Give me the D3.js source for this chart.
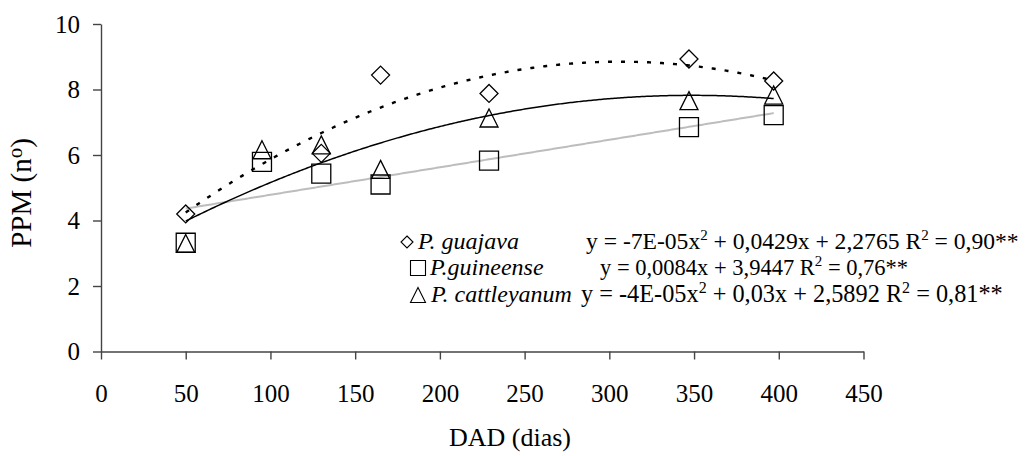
<!DOCTYPE html>
<html>
<head>
<meta charset="utf-8">
<script src="https://cdn.jsdelivr.net/npm/d3@7/dist/d3.min.js"></script>
<style>
  html, body { margin: 0; padding: 0; background: #fff; }
  svg { display: block; }
  text { font-family: "Liberation Serif", "Times New Roman", serif; white-space: pre; }
</style>
</head>
<body>
<svg id="chart" width="1027" height="456"></svg>
<script>
// Days after planting (DAD) at each evaluation
const days = [50, 95, 130, 165, 229, 347, 397];

// PPM (nº) per species; null = no observation
const guajava     = [4.2, null, 6.05, 8.44, 7.88, 8.93, 8.26];
const guineense   = [3.32, 5.79, 5.43, 5.1, 5.83, 6.85, 7.22];
const cattleyanum = [3.3, 6.16, 6.31, 5.56, 7.13, 7.66, 7.83];

// Trend-line coefficients [a, b, c] for y = a·x² + b·x + c
const guajavaFit     = [-7e-5, 0.0429, 2.2765];
const guineenseFit   = [0, 0.0084, 3.9447];
const cattleyanumFit = [-4.3e-5, 0.03, 2.5892];

// Axis ticks
const xTicks = [0, 50, 100, 150, 200, 250, 300, 350, 400, 450];
const yTicks = [0, 2, 4, 6, 8, 10];

// Legend labels and equation text (alternating normal / superscript pieces)
const speciesNames = ["P. guajava", "P.guineense", "P. cattleyanum"];
const equations = [
  ["y = -7E-05x", "2", " + 0,0429x + 2,2765 R", "2", " = 0,90**"],
  ["y = 0,0084x + 3,9447 R", "2", " = 0,76**"],
  ["y = -4E-05x", "2", " + 0,03x + 2,5892 R", "2", " = 0,81**"]
];

const svg = d3.select("#chart");

const x = d3.scaleLinear().domain([0, 450]).range([101, 863.5]);
const y = d3.scaleLinear().domain([0, 10]).range([351.5, 24]);

// Marker shapes
const diamond = { draw(ctx, size) { const r = Math.sqrt(size) / 2;
  ctx.moveTo(0, -r); ctx.lineTo(r, 0); ctx.lineTo(0, r); ctx.lineTo(-r, 0); ctx.closePath(); } };
const triangle = { draw(ctx, size) { const r = Math.sqrt(size) / 2;
  ctx.moveTo(0, -r); ctx.lineTo(r, r); ctx.lineTo(-r, r); ctx.closePath(); } };
const square = { draw(ctx, size) { const r = Math.sqrt(size) / 2;
  ctx.rect(-r, -r, 2 * r, 2 * r); } };

// Axes
const axisColor = "#444";
const xAxis = svg.append("g")
  .attr("transform", `translate(0,${y(0)})`)
  .call(d3.axisBottom(x).tickValues(xTicks).tickSize(8).tickSizeOuter(0).tickPadding(25));
const yAxis = svg.append("g")
  .attr("transform", `translate(${x(0)},0)`)
  .call(d3.axisLeft(y).tickValues(yTicks).tickSize(8).tickSizeOuter(0).tickPadding(13));
[xAxis, yAxis].forEach(g => {
  g.select(".domain").attr("stroke", axisColor).attr("stroke-width", 1.4);
  g.selectAll(".tick line").attr("stroke", axisColor).attr("stroke-width", 1.4);
  g.selectAll(".tick text")
    .attr("fill", "#000")
    .style("font-family", '"Liberation Serif", "Times New Roman", serif')
    .style("font-size", "25px");
});

// Axis titles
svg.append("text")
  .attr("x", 510).attr("y", 446)
  .attr("text-anchor", "middle")
  .style("font-size", "26px")
  .text("DAD (dias)");
const yTitle = svg.append("text")
  .attr("transform", "translate(31,193) rotate(-90)")
  .attr("text-anchor", "middle")
  .style("font-size", "29px");
yTitle.append("tspan").text("PPM (n");
yTitle.append("tspan").attr("dy", -9).style("font-size", "21px").text("o");
yTitle.append("tspan").attr("dy", 9).text(")");

// Trend lines
const xMin = d3.min(days), xMax = d3.max(days);
const trendX = d3.range(xMin, xMax + 0.5, 1);
const poly = c => v => c[0] * v * v + c[1] * v + c[2];
const trend = d3.line().x(d => x(d[0])).y(d => y(d[1]));
function drawTrend(coef, stroke, width, dash) {
  const f = poly(coef);
  svg.append("path")
    .datum(trendX.map(v => [v, f(v)]))
    .attr("d", trend)
    .attr("fill", "none")
    .attr("stroke", stroke)
    .attr("stroke-width", width)
    .attr("stroke-dasharray", dash);
}
drawTrend(guineenseFit, "#bdbdbd", 2, null);
drawTrend(cattleyanumFit, "#000", 1.5, null);
drawTrend(guajavaFit, "#000", 2.4, "4 9");

// Observed points
function drawPoints(values, type, size) {
  svg.append("g").selectAll("path")
    .data(days.map((d, i) => [d, values[i]]).filter(p => p[1] != null))
    .join("path")
    .attr("transform", p => `translate(${x(p[0])},${y(p[1])})`)
    .attr("d", d3.symbol().type(type).size(size))
    .attr("fill", "none")
    .attr("stroke", "#000")
    .attr("stroke-width", 1.3);
}
drawPoints(guineense, square, 19 * 19);
drawPoints(cattleyanum, triangle, 18 * 18);
drawPoints(guajava, diamond, 18 * 18);

// Legend
const legendTypes = [diamond, square, triangle];
const legendSizes = [12 * 12, 15 * 15, 15 * 15];
const legendSymX = [407, 418, 418];
const legendTextX = [418, 430, 431];
const eqX = [586, 600, 581];
const eqSize = [23.6, 22.5, 24.3];
const rowY = [249, 275, 302];

speciesNames.forEach((name, i) => {
  svg.append("path")
    .attr("transform", `translate(${legendSymX[i]},${rowY[i] - 7})`)
    .attr("d", d3.symbol().type(legendTypes[i]).size(legendSizes[i]))
    .attr("fill", "none")
    .attr("stroke", "#000")
    .attr("stroke-width", 1.1);
  svg.append("text")
    .attr("x", legendTextX[i]).attr("y", rowY[i])
    .style("font-size", "24px")
    .style("font-style", "italic")
    .text(name);
  const t = svg.append("text")
    .attr("x", eqX[i]).attr("y", rowY[i])
    .style("font-size", eqSize[i] + "px");
  equations[i].forEach((part, j) => {
    const sup = j % 2 === 1;
    t.append("tspan")
      .attr("dy", sup ? -9 : (j > 0 ? 9 : 0))
      .style("font-size", sup ? Math.round(eqSize[i] * 0.65) + "px" : eqSize[i] + "px")
      .text(part);
  });
});
</script>
</body>
</html>
